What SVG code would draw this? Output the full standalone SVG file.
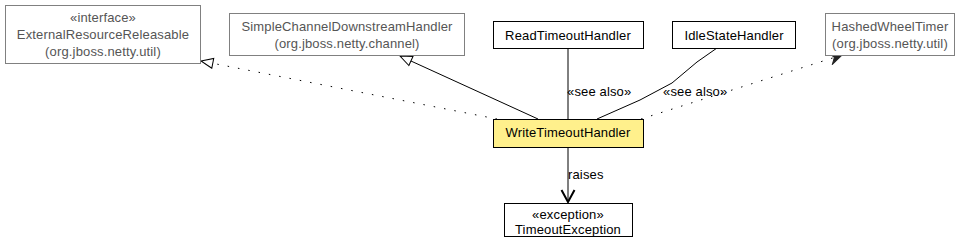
<svg xmlns="http://www.w3.org/2000/svg" width="969" height="251" viewBox="0 0 969 251">
<style>
text{font-family:"Liberation Sans",Arial,sans-serif;font-size:13px;text-anchor:middle;letter-spacing:0.15px}
.g rect{fill:#fff;stroke:#808080;stroke-width:1}
.g text{fill:#555}
.b rect{fill:#fff;stroke:#000;stroke-width:1}
.b text{fill:#000}
.y rect{fill:#fff08c;stroke:#000;stroke-width:1}
.c path{fill:none;stroke:#000;stroke-width:1}
.dot{stroke-dasharray:1.5 9}
.lbl{text-anchor:start;fill:#000}
</style>
<defs>
<marker id="tri" markerUnits="userSpaceOnUse" markerWidth="14" markerHeight="14" viewBox="0 0 14 14" refX="13" refY="7" orient="auto">
<path d="M1,2 L13,7 L1,12 Z" fill="#fff" stroke="#000" stroke-width="1"/>
</marker>
<marker id="dep" markerUnits="userSpaceOnUse" markerWidth="14" markerHeight="14" viewBox="0 0 14 14" refX="13" refY="7" orient="auto">
<path d="M1,1 L13,7 L1,13 L5,7 Z" fill="#222" stroke="#222" stroke-width="1"/>
</marker>
<marker id="vee" markerUnits="userSpaceOnUse" markerWidth="16" markerHeight="16" viewBox="0 0 16 16" refX="14" refY="8" orient="auto">
<path d="M2,1.5 L14,8 L2,14.5" fill="none" stroke="#000" stroke-width="2"/>
</marker>
</defs>
<g id="connectors" class="c">
<path class="dot" d="M497,119 L201,61" marker-end="url(#tri)"/>
<path d="M538,119 L400,56" marker-end="url(#tri)"/>
<path d="M568,48 L568,119"/>
<path d="M597,119 L640,100 L672,83 L697,62 L717,48"/>
<path class="dot" d="M641,119 L842,55" marker-end="url(#dep)"/>
<path d="M568,147 L568,202" marker-end="url(#vee)"/>
<text class="lbl" x="567" y="96">«see also»</text>
<text class="lbl" x="663" y="96">«see also»</text>
<text class="lbl" x="568" y="179">raises</text>
</g>
<g id="ExternalResourceReleasable" class="g">
<rect x="5.5" y="5.5" width="195" height="58"/>
<text x="103" y="22">«interface»</text>
<text x="103" y="39">ExternalResourceReleasable</text>
<text x="103" y="56">(org.jboss.netty.util)</text>
</g>
<g id="SimpleChannelDownstreamHandler" class="g">
<rect x="229.5" y="13.5" width="235" height="42"/>
<text x="347" y="31">SimpleChannelDownstreamHandler</text>
<text x="347" y="48">(org.jboss.netty.channel)</text>
</g>
<g id="ReadTimeoutHandler" class="b">
<rect x="493.5" y="21.5" width="150" height="27"/>
<text x="568" y="40">ReadTimeoutHandler</text>
</g>
<g id="IdleStateHandler" class="b">
<rect x="672.5" y="21.5" width="123" height="27"/>
<text x="734" y="40">IdleStateHandler</text>
</g>
<g id="HashedWheelTimer" class="g">
<rect x="825.5" y="13.5" width="129" height="42"/>
<text x="890" y="31">HashedWheelTimer</text>
<text x="890" y="48">(org.jboss.netty.util)</text>
</g>
<g id="WriteTimeoutHandler" class="y">
<rect x="493.5" y="119.5" width="150" height="28"/>
<text x="568" y="137">WriteTimeoutHandler</text>
</g>
<g id="TimeoutException" class="b">
<rect x="504.5" y="203.5" width="128" height="33"/>
<text x="568" y="219">«exception»</text>
<text x="568" y="234">TimeoutException</text>
</g>
</svg>
